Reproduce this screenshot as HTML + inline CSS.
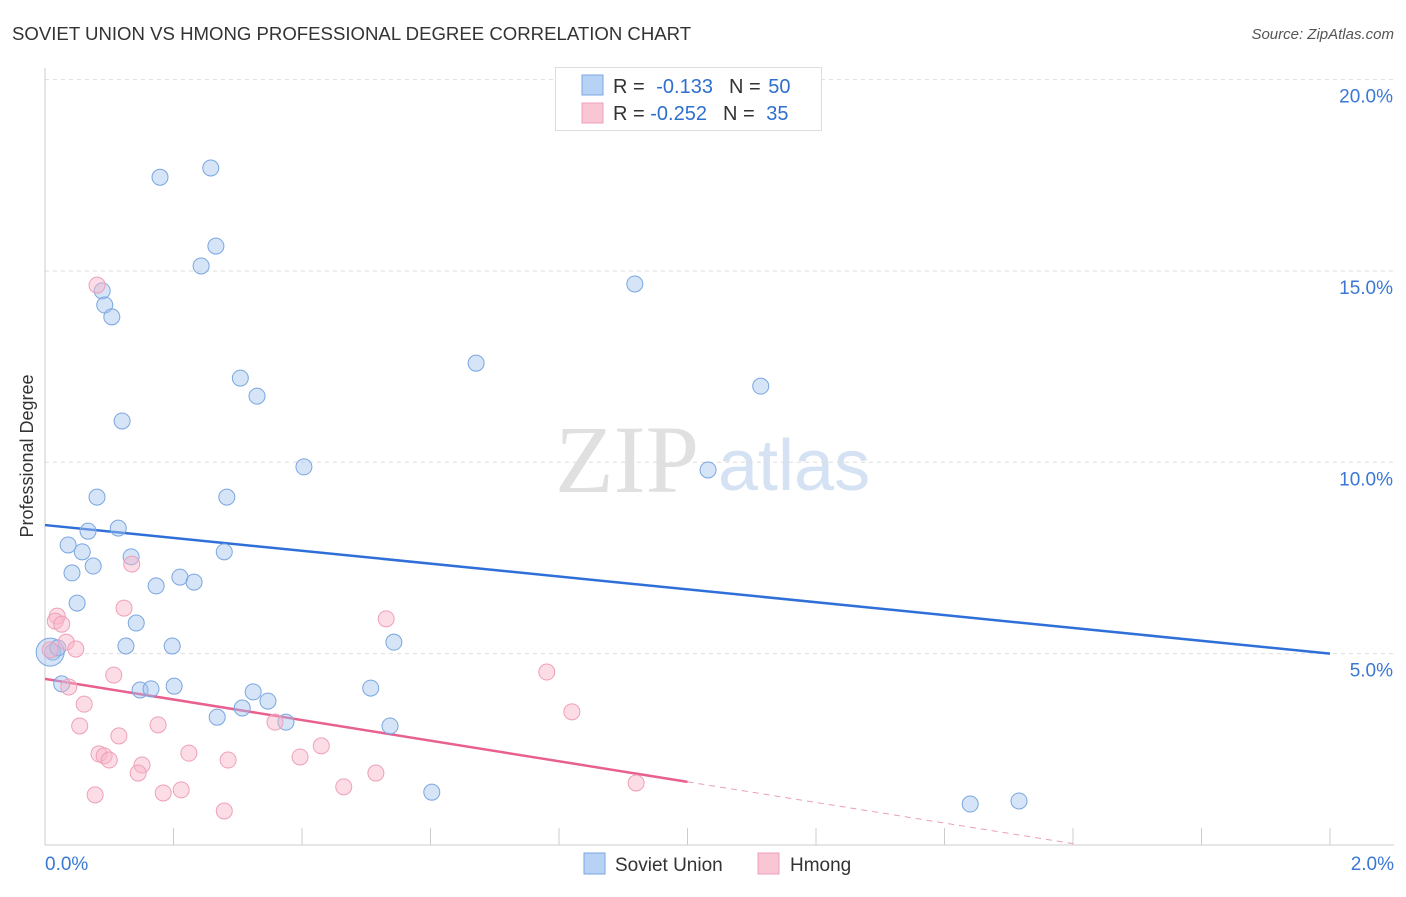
<!DOCTYPE html>
<html><head><meta charset="utf-8">
<style>
body{margin:0;background:#fff;font-family:"Liberation Sans",sans-serif;}
svg text{font-family:"Liberation Sans",sans-serif;}
</style></head>
<body>
<svg id="chart" width="1406" height="892" viewBox="0 0 1406 892" xmlns="http://www.w3.org/2000/svg">
<text x="12" y="40" font-size="18.6" fill="#333">SOVIET UNION VS HMONG PROFESSIONAL DEGREE CORRELATION CHART</text>
<text x="1394" y="39" font-size="15" fill="#555" font-style="italic" text-anchor="end">Source: ZipAtlas.com</text>
<text x="33" y="456" font-size="18" fill="#333" text-anchor="middle" transform="rotate(-90 33 456)">Professional Degree</text>
<g>
<text x="555" y="492" font-size="96" fill="#e0e0e0" style="font-family:'Liberation Serif',serif">ZIP</text>
<text x="718" y="490" font-size="72" fill="#d4e2f4">atlas</text>
</g>
<g id="grid"></g>
<g id="axes"></g>
<g id="lines"></g>
<g id="points"></g>
<g>
<rect x="555.5" y="67.5" width="266" height="63" fill="#fff" stroke="#ddd"/>
<rect x="582" y="75" width="21" height="20" fill="#b8d2f5" stroke="#7aa6e0"/>
<rect x="582" y="103" width="21" height="20" fill="#f9c6d4" stroke="#eea0b8"/>
<text x="613" y="93" font-size="20" fill="#333">R = <tspan fill="#2e6fd0" dx="6">-0.133</tspan><tspan fill="#333" dx="16">N = </tspan><tspan fill="#2e6fd0" dx="2">50</tspan></text>
<text x="613" y="120" font-size="20" fill="#333">R = <tspan fill="#2e6fd0">-0.252</tspan><tspan fill="#333" dx="16">N = </tspan><tspan fill="#2e6fd0" dx="6">35</tspan></text>
</g>
<g>
<rect x="584" y="853" width="21" height="21" fill="#b8d2f5" stroke="#7aa6e0"/>
<text x="615" y="871" font-size="19" fill="#333">Soviet Union</text>
<rect x="758" y="853" width="21" height="21" fill="#f9c6d4" stroke="#eea0b8"/>
<text x="790" y="871" font-size="19" fill="#333">Hmong</text>
</g>
</svg>
<script>
const yTicks=[5,10,15,20];
const yTickLabels=["5.0%","10.0%","15.0%","20.0%"];
const xTickLabels=["0.0%","2.0%"];
const sovietX=[0.179,0.258,0.266,0.243,0.089,0.093,0.104,0.918,0.671,0.304,0.330,1.114,0.120,0.403,1.032,0.081,0.283,0.067,0.114,0.036,0.058,0.075,0.134,0.042,0.279,0.210,0.232,0.173,0.050,0.142,0.126,0.198,0.543,0.012,0.008,0.020,0.026,0.148,0.165,0.201,0.507,0.324,0.347,0.307,0.268,0.375,0.537,0.602,1.440,1.516];
const sovietY=[17.45,17.69,15.65,15.13,14.48,14.11,13.80,14.66,12.59,12.20,11.73,11.99,11.08,9.88,9.80,9.09,9.09,8.20,8.28,7.84,7.66,7.29,7.53,7.11,7.66,7.00,6.87,6.77,6.32,5.80,5.20,5.20,5.30,5.04,5.04,5.15,4.21,4.05,4.08,4.15,4.10,4.00,3.76,3.58,3.34,3.21,3.11,1.38,1.07,1.15];
const sovietSize=[8,8,8,8,8,8,8,8,8,8,8,8,8,8,8,8,8,8,8,8,8,8,8,8,8,8,8,8,8,8,8,8,8,8,14,8,8,8,8,8,8,8,8,8,8,8,8,8,8,8];
const hmongX=[0.081,0.135,0.123,0.019,0.016,0.026,0.531,0.033,0.048,0.008,0.107,0.781,0.037,0.061,0.820,0.054,0.176,0.115,0.358,0.430,0.224,0.084,0.092,0.100,0.285,0.151,0.397,0.145,0.515,0.465,0.212,0.184,0.078,0.920,0.279];
const hmongY=[14.63,7.34,6.19,5.98,5.85,5.77,5.91,5.30,5.12,5.10,4.44,4.52,4.13,3.68,3.48,3.11,3.14,2.85,3.21,2.59,2.40,2.38,2.33,2.22,2.22,2.09,2.30,1.88,1.88,1.52,1.44,1.36,1.31,1.62,0.89];
const sovietTrend=[8.36,5.0];
const hmongTrend=[4.34,1.65];
const NS="http://www.w3.org/2000/svg";
function X(v){return 45+v/2*1285;}
function Y(v){return 845-v*38.27;}
function mk(tag,attrs,parent){const e=document.createElementNS(NS,tag);for(const k in attrs)e.setAttribute(k,attrs[k]);parent.appendChild(e);return e;}
const grid=document.getElementById('grid'),axes=document.getElementById('axes'),lines=document.getElementById('lines'),pts=document.getElementById('points');
yTicks.forEach((t,i)=>{
 const l=mk('line',{x1:45,x2:1394,y1:Y(t),y2:Y(t),stroke:'#ddd','stroke-dasharray':'4,4'},grid);
 
 
 const tx=mk('text',{x:1393,y:Y(t)+23,'font-size':19,fill:'#3a78d4','text-anchor':'end'},axes);
 tx.textContent=yTickLabels[i];
 
 
});
mk('line',{x1:45,x2:45,y1:68,y2:845,stroke:'#ccc'},axes);
mk('line',{x1:45,x2:1394,y1:845,y2:845,stroke:'#ccc'},axes);
for(let i=0;i<=10;i++){const x=X(i*0.2);const t=mk('line',{x1:x,x2:x,y1:828,y2:845,stroke:'#ccc'},axes);}
const xl0=mk('text',{x:45,y:870,'font-size':19,fill:'#3a78d4'},axes);xl0.textContent=xTickLabels[0];


const xl1=mk('text',{x:1394,y:870,'font-size':19,fill:'#3a78d4','text-anchor':'end'},axes);xl1.textContent=xTickLabels[1];


const sl=mk('line',{x1:X(0),y1:Y(sovietTrend[0]),x2:X(2),y2:Y(sovietTrend[1]),stroke:'#2e6fd8','stroke-width':2.5},lines);


const hs=(hmongTrend[1]-hmongTrend[0]);
const hl=mk('line',{x1:X(0),y1:Y(hmongTrend[0]),x2:X(1),y2:Y(hmongTrend[1]),stroke:'#e8608f','stroke-width':2.5},lines);


const hd=mk('line',{x1:X(1),y1:Y(hmongTrend[1]),x2:X(1.6),y2:Y(hmongTrend[0]+hs*1.6),stroke:'#e8a0b8','stroke-width':1,'stroke-dasharray':'6,5'},lines);


sovietX.forEach((v,i)=>{const c=mk('circle',{cx:X(v),cy:Y(sovietY[i]),r:sovietSize[i],fill:'rgba(164,196,240,0.45)',stroke:'#7aa6e0','stroke-width':1},pts);
 
 });
hmongX.forEach((v,i)=>{const c=mk('circle',{cx:X(v),cy:Y(hmongY[i]),r:8,fill:'rgba(248,180,200,0.45)',stroke:'#eea0b8','stroke-width':1},pts);
 
 });
</script>
</body></html>
